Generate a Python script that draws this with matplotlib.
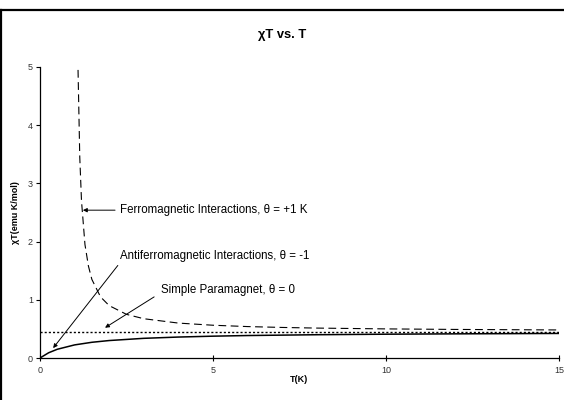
import matplotlib
matplotlib.use("Agg")
import matplotlib.pyplot as plt
from matplotlib.lines import Line2D

plt.rcParams['font.family'] = ['Liberation Sans', 'DejaVu Sans']

# values
t_ferro = [1.1, 1.15, 1.2, 1.3, 1.4, 1.5, 1.75, 2, 2.5, 3, 4, 5, 6, 7, 8, 10, 12, 15]
chi_ferro = [4.95, 3.45, 2.7, 1.95, 1.58, 1.35, 1.05, 0.9, 0.75, 0.675, 0.6, 0.563,
             0.54, 0.525, 0.514, 0.5, 0.491, 0.482]

t_anti = [0, 0.25, 0.5, 1, 1.5, 2, 3, 4, 5, 6, 8, 10, 12, 15]
chi_anti = [0, 0.09, 0.15, 0.225, 0.27, 0.3, 0.338, 0.36, 0.375, 0.386, 0.4, 0.409, 0.415, 0.422]

t_para = [0, 15]
chi_para = [0.45, 0.45]

x_ticks = [0, 5, 10, 15]
y_ticks = [0, 1, 2, 3, 4, 5]

labels = ["Ferromagnetic Interactions, \u03b8 = +1 K",
          "Antiferromagnetic Interactions, \u03b8 = -1",
          "Simple Paramagnet, \u03b8 = 0"]
label_pos = [(2.31, 2.54), (2.31, 1.75), (3.5, 1.17)]
arrow_tail = [(2.17, 2.54), (2.25, 1.59), (3.3, 1.05)]
arrow_head = [(1.24, 2.54), (0.38, 0.17), (1.88, 0.52)]

fig = plt.figure(figsize=(5.64, 4), dpi=100)
ax = fig.add_axes([0.0709, 0.105, 0.92, 0.7275])

ax.plot(t_ferro, chi_ferro, color='black', lw=0.8, ls=(0, (7, 4)))
ax.plot(t_anti, chi_anti, color='black', lw=1.1)
ax.plot(t_para, chi_para, color='black', lw=1.0, ls=(0, (1.5, 1.5)))

for lab, pos in zip(labels, label_pos):
    ax.text(pos[0], pos[1], lab, fontsize=8.3, va='center', ha='left', color='black')
for tail, head in zip(arrow_tail, arrow_head):
    ax.annotate('', xy=head, xytext=tail,
                arrowprops=dict(arrowstyle='-|>', color='black', lw=0.7,
                                mutation_scale=6, shrinkA=0, shrinkB=0))

ax.set_xlim(0, 15)
ax.set_ylim(0, 5)
ax.set_xticks(x_ticks)
ax.set_yticks(y_ticks)
ax.tick_params(axis='x', direction='inout', length=4, width=0.8, labelsize=6.5,
               pad=4, colors='black', labelcolor='#333333')
ax.tick_params(axis='y', direction='out', length=3, width=0.8, labelsize=6.5,
               pad=2, colors='black', labelcolor='#333333')
for s in ['top', 'right']:
    ax.spines[s].set_visible(False)
for s in ['left', 'bottom']:
    ax.spines[s].set_linewidth(0.9)

ax.set_xlabel('T(K)', fontsize=6.5, fontweight='bold', labelpad=0)
ax.set_ylabel('\u03c7T(emu K/mol)', fontsize=6.5, fontweight='bold', labelpad=6)
fig.text(0.5, 0.9125, '\u03c7T vs. T', fontsize=9.3, fontweight='bold', ha='center', va='center')

# frame edges visible in the crop
fig.add_artist(Line2D([0, 1], [0.975, 0.975], color='black', lw=1.6, transform=fig.transFigure))
fig.add_artist(Line2D([0.002, 0.002], [0, 0.975], color='black', lw=1.6, transform=fig.transFigure))

fig.savefig('out.png', dpi=100)
